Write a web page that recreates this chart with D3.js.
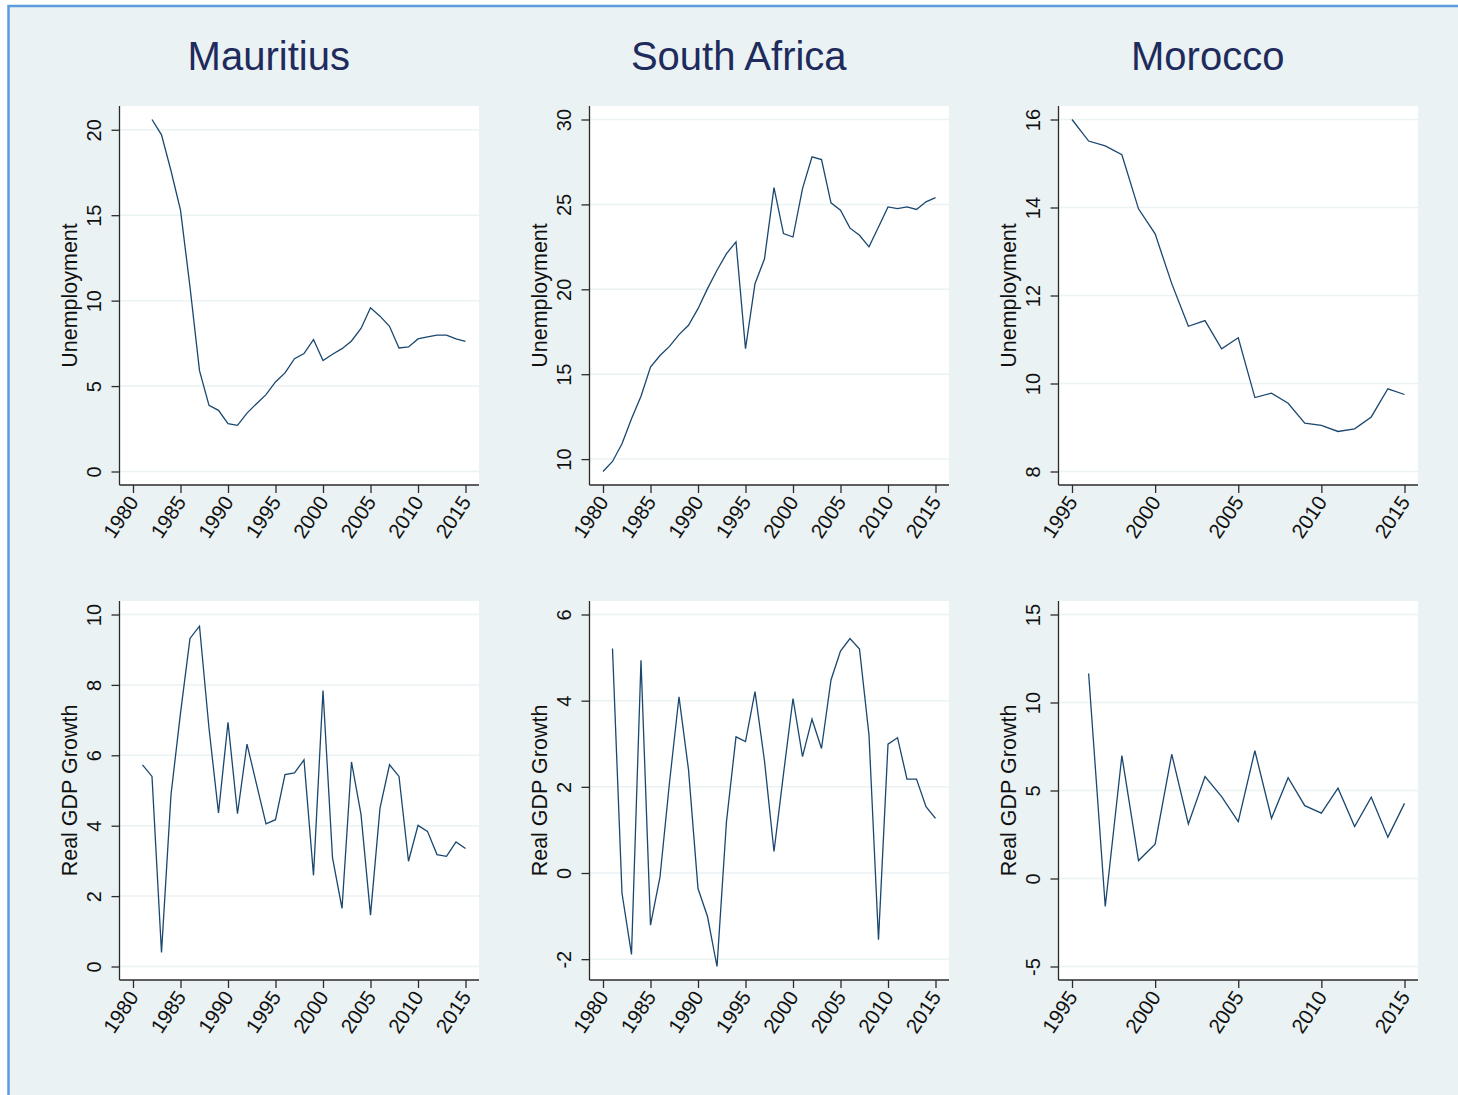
<!DOCTYPE html>
<html>
<head>
<meta charset="utf-8">
<script src="https://cdn.jsdelivr.net/npm/d3@7"></script>
<style>
  body { margin: 0; background: #ffffff; }
  text { font-family: "Liberation Sans", Arial, sans-serif; }
</style>
</head>
<body>
<div id="chart"></div>
<script>
// years on the x axis
var years = [1980, 1981, 1982, 1983, 1984, 1985, 1986, 1987, 1988, 1989,
             1990, 1991, 1992, 1993, 1994, 1995, 1996, 1997, 1998, 1999,
             2000, 2001, 2002, 2003, 2004, 2005, 2006, 2007, 2008, 2009,
             2010, 2011, 2012, 2013, 2014, 2015];

var countries = ["Mauritius", "South Africa", "Morocco"];
var rowLabels = ["Unemployment", "Real GDP Growth"];

// unemployment, %
var mauritiusUnemp = [20.6, 19.7, 17.6, 15.3, 10.8, 5.9, 3.87, 3.58, 2.8, 2.7,
                      3.42, 3.97, 4.5, 5.24, 5.77, 6.6, 6.9, 7.72, 6.5, 6.86,
                      7.19, 7.64, 8.37, 9.58, 9.09, 8.5, 7.23, 7.29, 7.76, 7.88,
                      7.98, 7.98, 7.76, 7.62];            // 1982-2015
var southAfricaUnemp = [9.27, 9.86, 10.9, 12.38, 13.7, 15.42, 16.1, 16.64, 17.33, 17.88,
                        18.86, 20.04, 21.12, 22.1, 22.79, 16.5, 20.33, 21.8, 25.99, 23.28,
                        23.08, 25.93, 27.8, 27.64, 25.09, 24.66, 23.6, 23.18, 22.5, 23.67,
                        24.85, 24.75, 24.85, 24.7, 25.15, 25.4];   // 1980-2015
var moroccoUnemp = [16.0, 15.51, 15.4, 15.2, 13.97, 13.4, 12.27, 11.3, 11.43, 10.79,
                    11.04, 9.68, 9.78, 9.55, 9.1, 9.05, 8.91, 8.97, 9.24, 9.88, 9.75]; // 1995-2015

// real GDP growth, %
var mauritiusGdp = [5.73, 5.4, 0.4, 4.88, 7.2, 9.32, 9.67, 6.77, 4.36, 6.94,
                    4.34, 6.32, 5.18, 4.05, 4.17, 5.45, 5.5, 5.87, 2.59, 7.84,
                    3.09, 1.65, 5.81, 4.32, 1.46, 4.5, 5.73, 5.4, 2.99, 4.01,
                    3.84, 3.18, 3.13, 3.54, 3.35];        // 1981-2015
var southAfricaGdp = [5.21, -0.47, -1.89, 4.94, -1.21, -0.09, 2.1, 4.09, 2.4, -0.36,
                      -1.01, -2.17, 1.2, 3.16, 3.05, 4.21, 2.6, 0.5, 2.3, 4.05,
                      2.7, 3.57, 2.89, 4.48, 5.15, 5.44, 5.2, 3.2, -1.55, 2.99,
                      3.14, 2.18, 2.18, 1.54, 1.27];      // 1981-2015
var moroccoGdp = [11.65, -1.59, 6.98, 1.02, 1.95, 7.06, 3.1, 5.79, 4.65, 3.23,
                  7.26, 3.42, 5.73, 4.14, 3.71, 5.13, 2.95, 4.62, 2.35, 4.27]; // 1996-2015

var xTicksLong = [1980, 1985, 1990, 1995, 2000, 2005, 2010, 2015];
var xTicksShort = [1995, 2000, 2005, 2010, 2015];

var yTicksMuU = [0, 5, 10, 15, 20];
var yTicksSaU = [10, 15, 20, 25, 30];
var yTicksMoU = [8, 10, 12, 14, 16];
var yTicksMuG = [0, 2, 4, 6, 8, 10];
var yTicksSaG = [-2, 0, 2, 4, 6];
var yTicksMoG = [-5, 0, 5, 10, 15];

function from(start) {
	return years.filter(function(y){ return y >= start; });
}

var panels = [
	{row: 0, col: 0, x: from(1982), y: mauritiusUnemp,   xt: xTicksLong,  yt: yTicksMuU},
	{row: 0, col: 1, x: from(1980), y: southAfricaUnemp, xt: xTicksLong,  yt: yTicksSaU},
	{row: 0, col: 2, x: from(1995), y: moroccoUnemp,     xt: xTicksShort, yt: yTicksMoU},
	{row: 1, col: 0, x: from(1981), y: mauritiusGdp,     xt: xTicksLong,  yt: yTicksMuG},
	{row: 1, col: 1, x: from(1981), y: southAfricaGdp,   xt: xTicksLong,  yt: yTicksSaG},
	{row: 1, col: 2, x: from(1996), y: moroccoGdp,       xt: xTicksShort, yt: yTicksMoG}
];

(function(){

	var width = 1458;
	var height = 1095;
	var bg = "#eaf2f3";
	var lineColor = "#1a476f";
	var axisColor = "#2b2b2b";
	var fmt = function(d){ return String(d); };   // plain hyphen for negatives

	var colLeft = [119.5, 589.5, 1058.5];
	var rowTop = [106, 601];
	var pw = 359.5, ph = 379, pad = 13.5;

	var svg = d3.select("div#chart")
		.append("svg")
		.attr("width", width)
		.attr("height", height);

	// graph region with the blue frame
	svg.append("rect")
		.attr("x", 8.5).attr("y", 6)
		.attr("width", width + 20).attr("height", height + 20)
		.attr("fill", bg)
		.attr("stroke", "#5c9bdc")
		.attr("stroke-width", 2.5);

	// column titles
	countries.forEach(function(c, i){
		svg.append("text")
			.attr("x", colLeft[i] + pw / 2 - 30.5)
			.attr("y", 70)
			.attr("text-anchor", "middle")
			.attr("font-size", 40)
			.attr("fill", "#1e2b5c")
			.text(c);
	});

	panels.forEach(function(p){
		var left = colLeft[p.col], top = rowTop[p.row];
		var g = svg.append("g").attr("transform", "translate(" + left + "," + top + ")");

		var xExt = d3.extent(p.x.concat(p.xt));
		var yExt = d3.extent(p.y.concat(p.yt));
		var x = d3.scaleLinear().domain(xExt).range([pad, pw - pad]);
		var y = d3.scaleLinear().domain(yExt).range([ph - pad, pad]);

		g.append("rect")
			.attr("width", pw).attr("height", ph)
			.attr("fill", "#ffffff");

		g.selectAll(".grid")
			.data(p.yt)
			.enter().append("line")
			.attr("class", "grid")
			.attr("x1", 0).attr("x2", pw)
			.attr("y1", function(d){ return y(d); })
			.attr("y2", function(d){ return y(d); })
			.attr("stroke", bg)
			.attr("stroke-width", 1.5);

		var pts = p.x.map(function(yr, i){ return [yr, p.y[i]]; });
		g.append("path")
			.datum(pts)
			.attr("fill", "none")
			.attr("stroke", lineColor)
			.attr("stroke-width", 1.3)
			.attr("d", d3.line()
				.x(function(d){ return x(d[0]); })
				.y(function(d){ return y(d[1]); }));

		// y axis
		var ya = g.append("g")
			.call(d3.axisLeft(y).tickValues(p.yt).tickSize(8).tickSizeOuter(0).tickFormat(fmt));
		ya.select(".domain").remove();
		ya.attr("font-size", 20).attr("font-family", null);
		ya.selectAll(".tick line").attr("stroke", axisColor).attr("stroke-width", 1.3);
		ya.selectAll(".tick text")
			.attr("x", null).attr("dy", null)
			.attr("fill", "#111")
			.attr("text-anchor", "middle")
			.attr("transform", "translate(-19,0) rotate(-90)");

		// x axis
		var xa = g.append("g")
			.attr("transform", "translate(0," + ph + ")")
			.call(d3.axisBottom(x).tickValues(p.xt).tickSize(8).tickSizeOuter(0).tickFormat(fmt));
		xa.select(".domain").remove();
		xa.attr("font-size", 20.5).attr("font-family", null);
		xa.selectAll(".tick line").attr("stroke", axisColor).attr("stroke-width", 1.3);
		xa.selectAll(".tick text")
			.attr("y", null).attr("dy", "0.35em")
			.attr("fill", "#111")
			.attr("text-anchor", "end")
			.attr("transform", "translate(0,13) rotate(-56)");

		// axis lines along the whole plot region
		g.append("line")
			.attr("x1", 0).attr("x2", 0).attr("y1", 0).attr("y2", ph)
			.attr("stroke", axisColor).attr("stroke-width", 1.3);
		g.append("line")
			.attr("x1", 0).attr("x2", pw).attr("y1", ph).attr("y2", ph)
			.attr("stroke", axisColor).attr("stroke-width", 1.3);

		g.append("text")
			.attr("transform", "translate(-42.5," + (ph / 2) + ") rotate(-90)")
			.attr("text-anchor", "middle")
			.attr("font-size", 21.5)
			.attr("fill", "#111")
			.text(rowLabels[p.row]);
	});

})();
</script>
</body>
</html>
